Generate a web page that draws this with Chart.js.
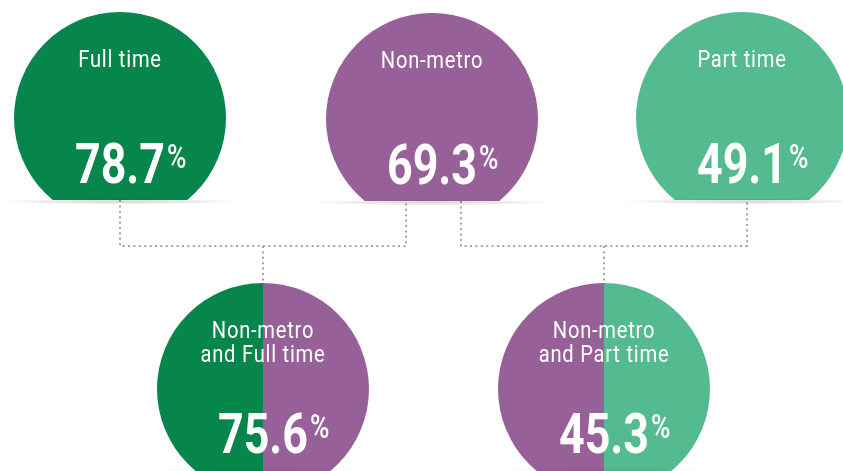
<!DOCTYPE html>
<html>
<head>
<meta charset="utf-8">
<script src="https://cdn.jsdelivr.net/npm/chart.js@4/dist/chart.umd.min.js"></script>
<style>
    html, body { margin: 0; padding: 0; background: #ffffff; }
    #wrap { width: 843px; height: 471px; }
</style>
</head>
<body>
<div id="wrap"><canvas id="chart" width="843" height="471"></canvas></div>
<script>

// ----------------------
// DONNÉES
// ----------------------
const nodeLabels = [["Full time"], ["Non-metro"], ["Part time"], ["Non-metro", "and Full time"], ["Non-metro", "and Part time"]];
const nodeValues = [78.7, 69.3, 49.1, 75.6, 45.3];

// layout of the infographic (in canvas units)
const nodeX = [120, 432, 742, 263, 604];
const nodeY = [118, 119, 118, 389, 389];
const cutY = [200, 201, 200, null, null];
const busY = 246;
const links = [
    { child: 3, parents: [0, 1], anchors: [120, 406] },
    { child: 4, parents: [1, 2], anchors: [461, 747] }
];

const GREEN = "#07864b";
const PURPLE = "#986098";
const LIGHT = "#54ba90";
const leftColors = [GREEN, PURPLE, LIGHT, GREEN, PURPLE];
const rightColors = [GREEN, PURPLE, LIGHT, PURPLE, LIGHT];
const R = 106;

const W = 843, H = 471;

// ----------------------
// DATASETS
// ----------------------
function radiusPx(ctx) {
    const s = ctx.chart.scales.x;
    return s.getPixelForValue(R) - s.getPixelForValue(0);
}

const nodes = nodeX.map((x, i) => ({ x, y: nodeY[i] }));

const connectorSets = [];
links.forEach(l => {
    const [p0, p1] = l.parents;
    connectorSets.push({
        type: "line",
        data: [
            { x: l.anchors[0], y: cutY[p0] },
            { x: l.anchors[0], y: busY },
            { x: l.anchors[1], y: busY },
            { x: l.anchors[1], y: cutY[p1] }
        ]
    });
    connectorSets.push({
        type: "line",
        data: [
            { x: nodeX[l.child], y: busY },
            { x: nodeX[l.child], y: nodeY[l.child] - R }
        ]
    });
});

const datasets = [
    {
        label: "left",
        half: "left",
        data: nodes,
        pointBackgroundColor: leftColors,
        pointBorderWidth: 0,
        pointRadius: radiusPx
    },
    {
        label: "right",
        half: "right",
        data: nodes,
        pointBackgroundColor: rightColors,
        pointBorderWidth: 0,
        pointRadius: radiusPx
    },
    ...connectorSets.map(c => ({
        ...c,
        showLine: true,
        borderColor: "#a4a4a4",
        borderWidth: 2,
        borderDash: [2, 3.4],
        pointRadius: 0,
        fill: false
    }))
];

// ----------------------
// PLUGINS
// ----------------------

// clip each circle to its half and to its flat bottom
const halfClip = {
    id: "halfClip",
    beforeDatasetDraw(chart, args) {
        const ds = chart.data.datasets[args.index];
        if (!ds.half) return;
        const ctx = chart.ctx;
        const ys = chart.scales.y;
        const xs = chart.scales.x;
        ctx.save();
        ctx.beginPath();
        args.meta.data.forEach((el, i) => {
            const cx = Math.round(el.x);
            const r = xs.getPixelForValue(R) - xs.getPixelForValue(0) + 2;
            const bottom = cutY[i] != null ? ys.getPixelForValue(cutY[i]) : H;
            const x0 = ds.half === "left" ? cx - r : cx;
            const x1 = ds.half === "left" ? cx : cx + r;
            ctx.rect(x0, el.y - r, x1 - x0, bottom - (el.y - r));
        });
        ctx.clip();
    },
    afterDatasetDraw(chart, args) {
        const ds = chart.data.datasets[args.index];
        if (ds.half) chart.ctx.restore();
    }
};

function drawShadow(ctx, cx, cy, hw, hh, alpha) {
    ctx.save();
    ctx.translate(cx, cy);
    ctx.scale(hw / hh, 1);
    const g = ctx.createRadialGradient(0, 0, 0, 0, 0, hh);
    g.addColorStop(0, `rgba(0,0,0,${alpha})`);
    g.addColorStop(0.6, `rgba(0,0,0,${alpha * 0.5})`);
    g.addColorStop(1, "rgba(0,0,0,0)");
    ctx.fillStyle = g;
    ctx.beginPath();
    ctx.arc(0, 0, hh, 0, Math.PI * 2);
    ctx.fill();
    ctx.restore();
}

function condensed(ctx, str, x, y, font, align, sx) {
    ctx.save();
    ctx.font = font;
    const w = ctx.measureText(str).width * sx;
    ctx.translate(x, y);
    ctx.scale(sx, 1);
    ctx.textAlign = align;
    ctx.textBaseline = "alphabetic";
    ctx.fillText(str, 0, 0);
    ctx.restore();
    return w;
}

const nodeText = {
    id: "nodeText",
    afterDatasetsDraw(chart) {
        const ctx = chart.ctx;
        const xs = chart.scales.x, ys = chart.scales.y;

        // shadows under the flat bottoms
        nodeX.forEach((x, i) => {
            const cx = xs.getPixelForValue(x);
            if (cutY[i] != null) {
                drawShadow(ctx, cx, ys.getPixelForValue(cutY[i]) + 1.5, 122, 3, 0.16);
            } else {
                drawShadow(ctx, cx, H - 1, 112, 2, 0.06);
            }
        });

        ctx.fillStyle = "#ffffff";
        nodeX.forEach((x, i) => {
            const cx = xs.getPixelForValue(x);
            const cy = ys.getPixelForValue(nodeY[i]);

            ctx.save();
            ctx.letterSpacing = "0.9px";
            nodeLabels[i].forEach((line, k) => {
                condensed(ctx, line, cx, cy - 51 + k * 24, "400 24px Roboto", "center", 0.84);
            });
            ctx.restore();

            const num = nodeValues[i].toFixed(1);
            const base = cy + (cutY[i] != null ? 65 : 64);
            const numW = condensed(ctx, num, cx, base, "700 56px Roboto", "center", 0.8);
            condensed(ctx, "%", cx + numW / 2 + 2, base - 15, "500 33px Roboto", "left", 0.8);
        });
    }
};

// ----------------------
// GRAPHIQUE
// ----------------------
new Chart(document.getElementById("chart"), {
    type: "scatter",
    data: { datasets },
    options: {
        responsive: false,
        animation: false,
        events: [],
        layout: { padding: 0 },
        plugins: {
            legend: { display: false },
            tooltip: { enabled: false }
        },
        scales: {
            x: { type: "linear", min: 0, max: W, display: false },
            y: { type: "linear", min: 0, max: H, reverse: true, display: false }
        }
    },
    plugins: [halfClip, nodeText]
});
</script>
</body>
</html>
